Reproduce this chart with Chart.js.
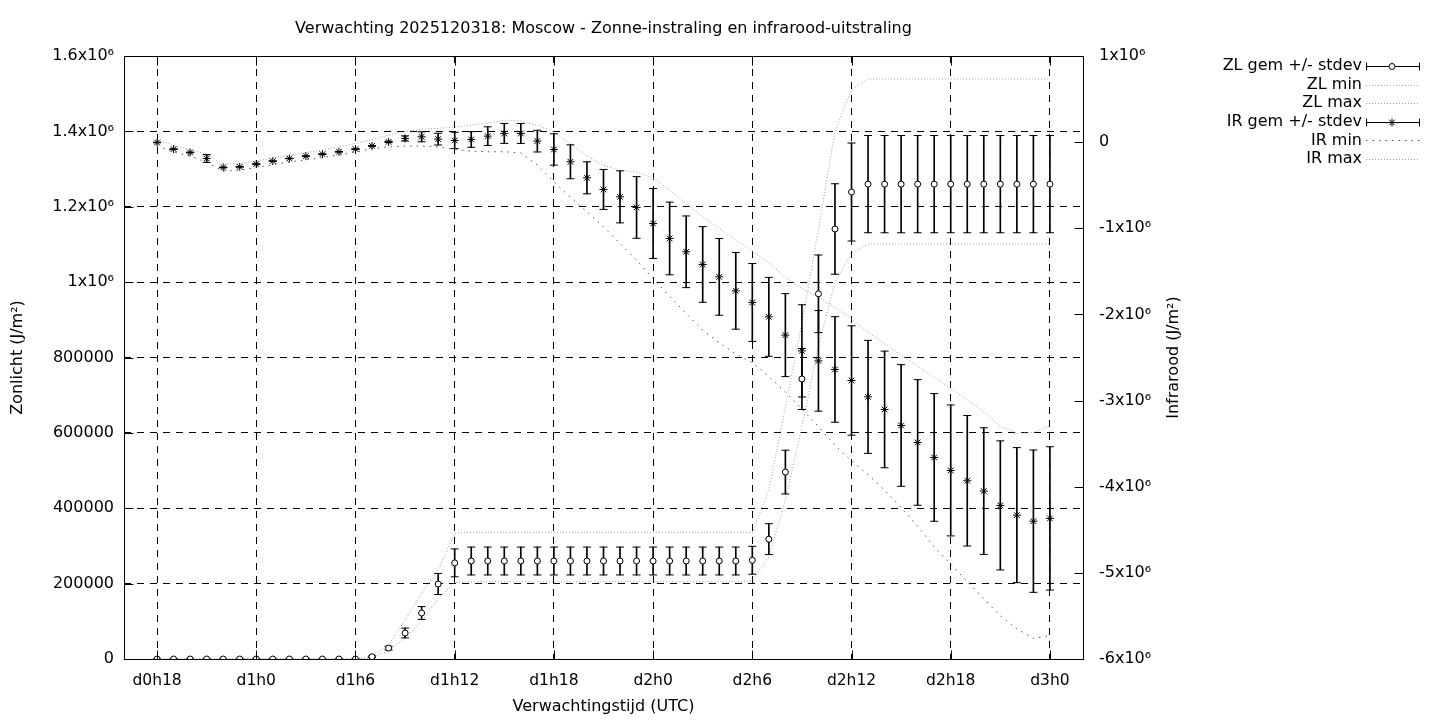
<!DOCTYPE html>
<html><head><meta charset="utf-8">
<script src="https://cdn.jsdelivr.net/npm/chart.js@4.4.1/dist/chart.umd.min.js"></script>
<style>html,body{margin:0;padding:0;background:#fff;}canvas{display:block;}</style>
</head><body>
<canvas id="c" width="1440" height="720"></canvas>
<script>
// ---------- data ----------
const titleText = 'Verwachting 2025120318: Moscow - Zonne-instraling en infrarood-uitstraling';
const xTitle = 'Verwachtingstijd (UTC)';
const zlTitle = 'Zonlicht (J/m²)';
const irTitle = 'Infrarood (J/m²)';

// forecast hour offsets from d0h18
const hours = [0,1,2,3,4,5,6,7,8,9,10,11,12,13,14,15,16,17,18,19,20,21,22,23,24,25,26,27,28,29,
  30,31,32,33,34,35,36,37,38,39,40,41,42,43,44,45,46,47,48,49,50,51,52,53,54];

const xTickHours = [0,6,12,18,24,30,36,42,48,54];
const xTickLabels = ['d0h18','d1h0','d1h6','d1h12','d1h18','d2h0','d2h6','d2h12','d2h18','d3h0'];

const zlTickValues = [0,200000,400000,600000,800000,1000000,1200000,1400000,1600000];
const zlTickLabels = ['0','200000','400000','600000','800000','1x10⁶','1.2x10⁶','1.4x10⁶','1.6x10⁶'];

const irTickValues = [-6000000,-5000000,-4000000,-3000000,-2000000,-1000000,0,1000000];
const irTickLabels = ['-6x10⁶','-5x10⁶','-4x10⁶','-3x10⁶','-2x10⁶','-1x10⁶','0','1x10⁶'];

const seriesNames = ['ZL gem +/- stdev','ZL min','ZL max','IR gem +/- stdev','IR min','IR max'];

const zlMean = [0,0,0,0,0,0,0,0,0,0,
  0,0,0,6000,29000,69000,122000,199000,255000,260000,
  260000,260000,260000,260000,260000,260000,260000,260000,260000,260000,
  260000,260000,260000,260000,260000,260000,262000,318000,496000,743000,
  969000,1141000,1239000,1260000,1260000,1260000,1260000,1260000,1260000,1260000,
  1260000,1260000,1260000,1260000,1260000];
const zlSd = [0,0,0,0,0,0,0,0,0,0,
  0,0,0,2000,5000,13000,17000,28000,37000,37000,
  37000,37000,37000,37000,37000,37000,37000,37000,37000,37000,
  37000,37000,37000,37000,37000,37000,37000,41000,58000,81000,
  103000,120000,130000,129000,129000,129000,129000,129000,129000,129000,
  129000,129000,129000,129000,129000];
const zlMin = [0,0,0,0,0,0,0,0,0,0,
  0,0,0,3000,22000,55000,100000,160000,203000,205000,
  205000,205000,205000,205000,205000,205000,205000,205000,205000,205000,
  205000,205000,205000,205000,205000,205000,208000,271000,422000,616000,
  830000,1000000,1077000,1101000,1101000,1101000,1101000,1101000,1101000,1101000,
  1101000,1101000,1101000,1101000,1101000];
const zlMax = [0,0,0,0,0,0,0,0,0,0,
  0,0,0,6000,38000,103000,175000,236000,334000,336000,
  336000,336000,336000,336000,336000,336000,336000,336000,336000,336000,
  336000,336000,336000,336000,336000,336000,336000,448000,669000,890000,
  1140000,1400000,1510000,1539000,1539000,1539000,1539000,1539000,1539000,1539000,
  1539000,1539000,1539000,1539000,1539000];

const irMean = [-4000,-81000,-120000,-190000,-294000,-287000,-255000,-220000,-190000,-163000,
  -139000,-112000,-81000,-43000,3000,43000,62000,35000,20000,31000,
  70000,101000,101000,12000,-85000,-228000,-414000,-549000,-635000,-758000,
  -944000,-1118000,-1273000,-1420000,-1564000,-1726000,-1861000,-2028000,-2240000,-2423000,
  -2539000,-2639000,-2767000,-2957000,-3103000,-3289000,-3486000,-3660000,-3811000,-3931000,
  -4051000,-4217000,-4330000,-4400000,-4368000];
const irSd = [3000,3000,4000,45000,4000,3000,3000,3000,3000,3000,
  3000,3000,4000,5000,8000,30000,58000,68000,95000,91000,
  108000,116000,116000,126000,182000,197000,186000,232000,302000,358000,
  406000,422000,416000,439000,445000,445000,452000,458000,482000,535000,
  584000,613000,635000,656000,677000,706000,729000,741000,760000,757000,
  735000,749000,784000,826000,832000];
const irMin = [-40000,-115000,-160000,-235000,-335000,-325000,-295000,-260000,-230000,-205000,
  -180000,-150000,-115000,-75000,-55000,-45000,-45000,-55000,-85000,-105000,
  -112000,-112000,-125000,-267000,-460000,-640000,-809000,-983000,-1176000,-1370000,
  -1582000,-1790000,-1989000,-2182000,-2330000,-2460000,-2560000,-2720000,-2900000,-3100000,
  -3300000,-3520000,-3700000,-3860000,-4040000,-4240000,-4460000,-4700000,-4900000,-5100000,
  -5300000,-5500000,-5650000,-5760000,-5730000];
const irMax = [30000,-40000,-85000,-145000,-255000,-250000,-220000,-185000,-155000,-120000,
  -90000,-55000,-15000,30000,80000,125000,150000,160000,175000,197000,
  224000,255000,247000,197000,120000,-20000,-160000,-270000,-325000,-345000,
  -420000,-557000,-712000,-867000,-1002000,-1138000,-1265000,-1400000,-1570000,-1700000,
  -1800000,-1920000,-2050000,-2210000,-2340000,-2470000,-2600000,-2730000,-2860000,-2990000,
  -3130000,-3300000,-3380000,-3370000,-3300000];

// ---------- styling ----------
const FONT = 'DejaVu Sans';
const FS = 16;
const XFS = 15.5;
const LIGHT = '#a0a0a0';
const DARK = '#505050';

const pts = (ys) => hours.map((h, i) => ({x: h, y: ys[i]}));
const rng = (m, s) => hours.map((h, i) => ({x: h, y: [m[i] - s[i], m[i] + s[i]]}));
const lo = (m, s) => hours.map((h, i) => ({x: h, y: m[i] - s[i]}));
const hi = (m, s) => hours.map((h, i) => ({x: h, y: m[i] + s[i]}));

function errBar(data, axis, order) {
  return {type: 'bar', data, yAxisID: axis, backgroundColor: '#000', borderWidth: 0,
    barThickness: 1, grouped: false, order};
}
function whisker(data, axis, order) {
  return {type: 'line', data, yAxisID: axis, showLine: false, pointStyle: 'line',
    pointRadius: 4, pointBorderWidth: 1, pointBorderColor: '#000', borderColor: '#000', order};
}
function dotted(label, data, axis, color, dash, order) {
  return {type: 'line', label, data, yAxisID: axis, borderColor: color, borderWidth: 1,
    borderDash: dash, pointRadius: 0, tension: 0, fill: false, order};
}

const datasets = [
  {type: 'line', label: seriesNames[0], data: pts(zlMean), yAxisID: 'y', showLine: false,
    pointStyle: 'circle', pointRadius: 3, pointBorderWidth: 1, pointBorderColor: '#000',
    pointBackgroundColor: '#fff', order: 0},
  {type: 'line', label: seriesNames[3], data: pts(irMean), yAxisID: 'y2', showLine: false,
    pointStyle: 'star', pointRadius: 4, pointBorderWidth: 1, pointBorderColor: '#000', order: 0},
  whisker(lo(zlMean, zlSd), 'y', 1), whisker(hi(zlMean, zlSd), 'y', 1),
  whisker(lo(irMean, irSd), 'y2', 1), whisker(hi(irMean, irSd), 'y2', 1),
  errBar(rng(zlMean, zlSd), 'y', 2), errBar(rng(irMean, irSd), 'y2', 2),
  dotted(seriesNames[1], pts(zlMin), 'y', LIGHT, [1, 2], 3),
  dotted(seriesNames[2], pts(zlMax), 'y', LIGHT, [1, 2], 3),
  dotted(seriesNames[4], pts(irMin), 'y2', DARK, [1.5, 5], 3),
  dotted(seriesNames[5], pts(irMax), 'y2', LIGHT, [1, 2], 3)
];

const gnuPlugin = {
  id: 'gnu',
  afterDatasetsDraw(chart) {
    const {ctx, chartArea: a, scales} = chart;
    const L = Math.round(a.left) + 0.5, R = Math.round(a.right) + 0.5;
    const T = Math.round(a.top) + 0.5, B = Math.round(a.bottom) + 0.5;
    ctx.save();
    ctx.strokeStyle = '#000'; ctx.lineWidth = 1; ctx.setLineDash([]);
    ctx.beginPath();
    scales.y2.ticks.forEach(t => {
      const y = Math.round(scales.y2.getPixelForValue(t.value)) + 0.5;
      ctx.moveTo(R, y); ctx.lineTo(R - 9, y);
    });
    scales.y.ticks.forEach(t => {
      const y = Math.round(scales.y.getPixelForValue(t.value)) + 0.5;
      ctx.moveTo(L, y); ctx.lineTo(L + 9, y);
    });
    scales.x.ticks.forEach(t => {
      const x = Math.round(scales.x.getPixelForValue(t.value)) + 0.5;
      ctx.moveTo(x, B); ctx.lineTo(x, B - 9);
      ctx.moveTo(x, T); ctx.lineTo(x, T + 9);
    });
    ctx.stroke();
    ctx.strokeRect(L, T, R - L, B - T);
    ctx.restore();
  },
  afterDraw(chart) {
    const {ctx, chartArea: a} = chart;
    const H = Chart.helpers;
    ctx.save();
    ctx.fillStyle = '#000';
    ctx.font = FS + 'px "' + FONT + '"';
    // right axis title
    ctx.save();
    ctx.translate(1174, (a.top + a.bottom) / 2);
    ctx.rotate(-Math.PI / 2);
    ctx.textAlign = 'center'; ctx.textBaseline = 'middle';
    ctx.fillText(irTitle, 0, 0);
    ctx.restore();
    // legend
    const styles = [
      {kind: 'err', marker: 'circle'},
      {kind: 'dot', color: LIGHT, dash: [1, 2]},
      {kind: 'dot', color: LIGHT, dash: [1, 2]},
      {kind: 'err', marker: 'star'},
      {kind: 'dot', color: DARK, dash: [1.5, 5]},
      {kind: 'dot', color: LIGHT, dash: [1, 2]}
    ];
    const x1 = 1366, x2 = 1420, xm = 1392;
    seriesNames.forEach((name, i) => {
      const y = 66 + i * 18.6;
      ctx.textAlign = 'right'; ctx.textBaseline = 'middle';
      ctx.fillStyle = '#000';
      ctx.fillText(name, 1362, y);
      const st = styles[i];
      const yy = Math.round(y) + 0.5;
      ctx.lineWidth = 1;
      if (st.kind === 'dot') {
        ctx.strokeStyle = st.color; ctx.setLineDash(st.dash);
        ctx.beginPath(); ctx.moveTo(x1, yy); ctx.lineTo(x2, yy); ctx.stroke();
        ctx.setLineDash([]);
      } else {
        ctx.strokeStyle = '#000'; ctx.setLineDash([]);
        ctx.beginPath();
        ctx.moveTo(x1, yy); ctx.lineTo(x2, yy);
        ctx.moveTo(x1 + 0.5, yy - 4); ctx.lineTo(x1 + 0.5, yy + 4);
        ctx.moveTo(x2 - 0.5, yy - 4); ctx.lineTo(x2 - 0.5, yy + 4);
        ctx.stroke();
        ctx.fillStyle = '#fff';
        H.drawPoint(ctx, {pointStyle: st.marker, radius: st.marker === 'circle' ? 3 : 4,
          rotation: 0, borderWidth: 1}, xm, yy);
        ctx.fillStyle = '#000';
      }
    });
    ctx.restore();
  }
};

const titleFont = {family: FONT, size: FS, weight: 'normal'};

new Chart(document.getElementById('c'), {
  type: 'line',
  data: {datasets},
  plugins: [gnuPlugin],
  options: {
    responsive: false, animation: false, devicePixelRatio: 1, events: [],
    layout: {padding: {left: 0, right: 233, top: 0, bottom: 0}},
    plugins: {
      legend: {display: false}, tooltip: {enabled: false},
      title: {display: true, text: titleText, color: '#000', font: titleFont,
        padding: {top: 19.4, bottom: 17.4}}
    },
    scales: {
      x: {type: 'linear', position: 'bottom', min: -2, max: 56, offset: false,
        afterBuildTicks: s => { s.ticks = xTickHours.map(v => ({value: v})); },
        afterFit: s => { s.height = 61; },
        ticks: {autoSkip: false, maxRotation: 0, padding: 13, color: '#000',
          font: {family: FONT, size: XFS},
          callback: v => { const i = xTickHours.indexOf(v); return i >= 0 ? xTickLabels[i] : ''; }},
        grid: {color: '#000', lineWidth: 1, drawTicks: false, offset: false},
        border: {display: false, dash: [7, 6]},
        title: {display: true, text: xTitle, color: '#000', font: titleFont,
          padding: {top: 0, bottom: 3.4}}
      },
      y: {type: 'linear', position: 'left', min: 0, max: 1600000,
        afterBuildTicks: s => { s.ticks = zlTickValues.map(v => ({value: v})); },
        afterFit: s => { s.width = 124; },
        ticks: {padding: 10, color: '#000', font: {family: FONT, size: FS},
          callback: v => { const i = zlTickValues.indexOf(v); return i >= 0 ? zlTickLabels[i] : ''; }},
        grid: {color: '#000', lineWidth: 1, drawTicks: false},
        border: {display: false, dash: [7, 6]},
        title: {display: true, text: zlTitle, color: '#000', font: titleFont,
          padding: {top: 8.4, bottom: 0}}
      },
      y2: {type: 'linear', position: 'right', min: -6000000, max: 1000000,
        afterBuildTicks: s => { s.ticks = irTickValues.map(v => ({value: v})); },
        afterFit: s => { s.width = 124; },
        ticks: {padding: 16, color: '#000', font: {family: FONT, size: FS},
          callback: v => { const i = irTickValues.indexOf(v); return i >= 0 ? irTickLabels[i] : ''; }},
        grid: {display: false, drawTicks: false},
        border: {display: false}
      }
    }
  }
});
</script>
</body></html>
